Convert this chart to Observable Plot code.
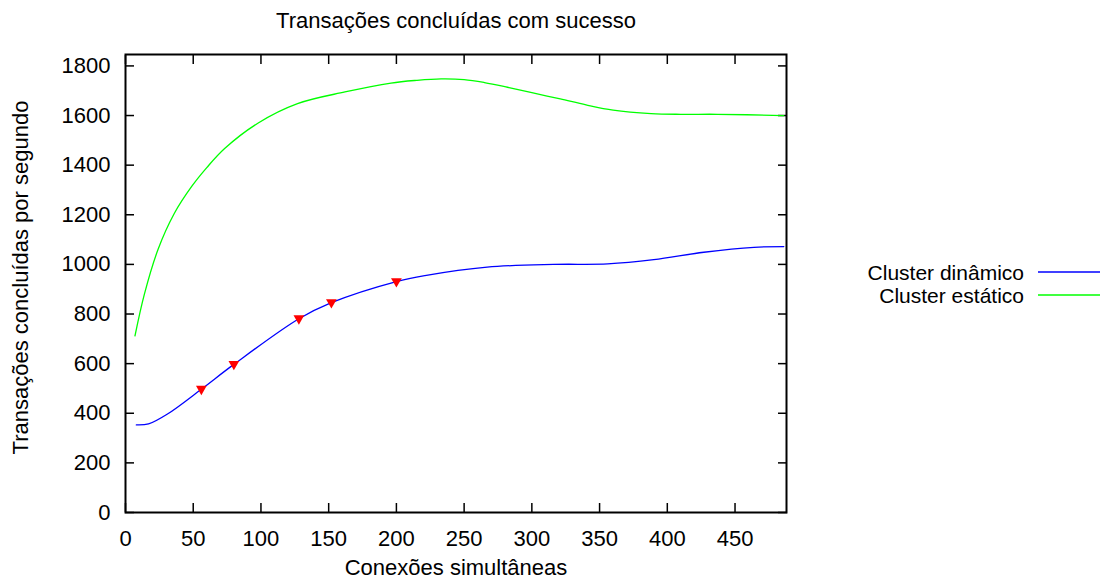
<!DOCTYPE html>
<html>
<head>
<meta charset="utf-8">
<script src="https://cdn.jsdelivr.net/npm/d3@7"></script>
<script src="https://cdn.jsdelivr.net/npm/@observablehq/plot@0.6"></script>
<style>
  html, body { margin: 0; padding: 0; background: white; }
</style>
</head>
<body>
<div id="chart"></div>
<script>
// ---- data ----
const titleText = "Transações concluídas com sucesso";
const xLabelText = "Conexões simultâneas";
const yLabelText = "Transações concluídas por segundo";

const xTicks = [0, 50, 100, 150, 200, 250, 300, 350, 400, 450];
const yTicks = [0, 200, 400, 600, 800, 1000, 1200, 1400, 1600, 1800];

const seriesNames = ["Cluster dinâmico", "Cluster estático"];
const seriesColors = ["#0000ff", "#00ff00"];

// Cluster dinâmico (blue)
const dynX = [8, 17, 31, 56, 80, 128, 152, 200, 221, 267, 316, 356, 390, 427, 464, 486];
const dynY = [353, 357, 397, 497, 597, 781, 846, 931, 955, 989, 1000, 1002, 1019, 1049, 1069, 1072];

// Cluster estático (green)
const staX = [7, 14, 24, 36, 49, 60, 73, 98, 127, 162, 196, 215, 233, 250, 265, 282, 300, 321, 340, 360, 388, 410, 437, 486];
const staY = [712, 881, 1060, 1205, 1315, 1390, 1466, 1570, 1648, 1695, 1731, 1742, 1748, 1745, 1733, 1714, 1692, 1667, 1643, 1622, 1608, 1605, 1605, 1600];

// red triangle markers on the blue curve
const markX = [56, 80, 128, 152, 200];
const markY = [498, 598, 782, 847, 932];

// ---- build rows ----
const dynRows = dynX.map((x, i) => ({x, y: dynY[i]}));
const staRows = staX.map((x, i) => ({x, y: staY[i]}));
const markRows = markX.map((x, i) => ({x, y: markY[i]}));

const blank = () => "";
const plain = d => String(d);

const chart = Plot.plot({
  width: 1100,
  height: 581,
  marginLeft: 125,
  marginRight: 314,
  marginTop: 54,
  marginBottom: 69,
  style: {
    fontFamily: "'Liberation Sans', Arial, Helvetica, sans-serif",
    fontSize: "22px",
    color: "black",
    background: "white",
    overflow: "visible"
  },
  x: {domain: [0, 488]},
  y: {domain: [0, 1846]},
  marks: [
    // tick labels
    Plot.axisX(xTicks, {anchor: "bottom", tickSize: 0, tickPadding: 18, label: null, tickFormat: plain}),
    Plot.axisY(yTicks, {anchor: "left", tickSize: 0, tickPadding: 15, label: null, tickFormat: plain}),
    // inward ticks on all four sides
    Plot.axisX(xTicks, {anchor: "bottom", tickSize: -9, tickFormat: blank, label: null, strokeWidth: 1.5}),
    Plot.axisX(xTicks, {anchor: "top", tickSize: -9, tickFormat: blank, label: null, strokeWidth: 1.5}),
    Plot.axisY(yTicks, {anchor: "left", tickSize: -9, tickFormat: blank, label: null, strokeWidth: 1.5}),
    Plot.axisY(yTicks, {anchor: "right", tickSize: -9, tickFormat: blank, label: null, strokeWidth: 1.5}),
    // series
    Plot.line(staRows, {x: "x", y: "y", stroke: seriesColors[1], strokeWidth: 1.3, curve: "catmull-rom"}),
    Plot.line(dynRows, {x: "x", y: "y", stroke: seriesColors[0], strokeWidth: 1.3, curve: "catmull-rom"}),
    Plot.dot(markRows, {x: "x", y: "y", symbol: "triangle", rotate: 180, r: 4, fill: "#ff0000", stroke: null}),
    Plot.frame({stroke: "black", strokeWidth: 2}),
    // title and axis labels
    Plot.text([titleText], {text: d => d, frameAnchor: "top", lineAnchor: "middle", dy: -34, fill: "black"}),
    Plot.text([xLabelText], {text: d => d, frameAnchor: "bottom", lineAnchor: "middle", dy: 55, fill: "black"}),
    Plot.text([yLabelText], {text: d => d, frameAnchor: "left", textAnchor: "middle", lineAnchor: "middle", dx: -105, dy: -6, rotate: -90, fill: "black"})
  ]
});

// legend (right side)
const svg = d3.select(chart);
const legendRowsY = [272, 295];
seriesNames.forEach((name, i) => {
  svg.append("text")
    .attr("x", 1024)
    .attr("y", legendRowsY[i])
    .attr("text-anchor", "end")
    .attr("dominant-baseline", "central")
    .attr("font-size", "21px")
    .attr("fill", "black")
    .text(name);
  svg.append("line")
    .attr("x1", 1038).attr("x2", 1100)
    .attr("y1", legendRowsY[i]).attr("y2", legendRowsY[i])
    .attr("stroke", seriesColors[i])
    .attr("stroke-width", 1.3);
});

document.getElementById("chart").appendChild(chart);
</script>
</body>
</html>
